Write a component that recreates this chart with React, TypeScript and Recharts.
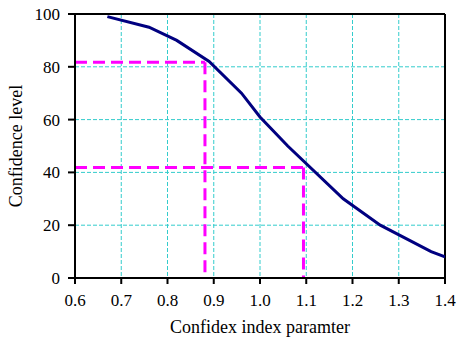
import React from 'react';
import { LineChart, Line, XAxis, YAxis, CartesianGrid, ReferenceLine } from 'recharts';

const curveX = [0.67, 0.76, 0.82, 0.89, 0.96, 1.0, 1.06, 1.18, 1.26, 1.37, 1.4];
const curveY = [99, 95, 90, 82, 70, 61, 50, 30, 20, 10, 8];

const xTicks = [0.6, 0.7, 0.8, 0.9, 1.0, 1.1, 1.2, 1.3, 1.4];
const yTicks = [0, 20, 40, 60, 80, 100];

const guideA = { x: 0.881, y: 81.7 };
const guideB = { x: 1.094, y: 41.9 };

const data = curveX.map((x, i) => ({ x, y: curveY[i] }));

const font = "'Liberation Serif', 'DejaVu Serif', serif";

export default function App() {
  return (
    <div style={{ position: 'absolute', left: 0, top: 0, fontFamily: font }}>
      <LineChart width={458} height={341} data={data} style={{ fontFamily: font }} margin={{ top: 14, right: 13, left: 0, bottom: 0 }}>
        <CartesianGrid stroke="#33cccc" strokeDasharray="4 2" strokeWidth={1} />
        <XAxis
          dataKey="x"
          type="number"
          domain={[0.6, 1.4]}
          ticks={xTicks}
          tickFormatter={(v: number) => v.toFixed(1)}
          stroke="#000"
          strokeWidth={2}
          tickSize={6}
          tickMargin={10}
          height={63}
          tick={{ fill: '#000', fontSize: 17, fontFamily: font }}
          label={{ value: 'Confidex index paramter', position: 'insideBottom', offset: 8, fill: '#000', fontSize: 18, fontFamily: font }}
          allowDataOverflow
        />
        <YAxis
          type="number"
          domain={[0, 100]}
          ticks={yTicks}
          stroke="#000"
          strokeWidth={2}
          tickSize={7}
          tickMargin={8}
          width={75}
          tick={{ fill: '#000', fontSize: 17, fontFamily: font }}
          label={{ value: 'Confidence level', angle: -90, position: 'insideLeft', offset: 16, style: { textAnchor: 'middle', fontFamily: font }, fill: '#000', fontSize: 18 }}
        />
        <ReferenceLine y={100} stroke="#000" strokeWidth={2} />
        <ReferenceLine x={1.4} stroke="#000" strokeWidth={2} />
        <ReferenceLine segment={[{ x: 0.6, y: guideA.y }, { x: guideA.x, y: guideA.y }]} stroke="#ff00ff" strokeWidth={3} strokeDasharray="12 6" />
        <ReferenceLine segment={[{ x: guideA.x, y: guideA.y }, { x: guideA.x, y: 0 }]} stroke="#ff00ff" strokeWidth={3} strokeDasharray="12 6" />
        <ReferenceLine segment={[{ x: 0.6, y: guideB.y }, { x: guideB.x, y: guideB.y }]} stroke="#ff00ff" strokeWidth={3} strokeDasharray="12 6" />
        <ReferenceLine segment={[{ x: guideB.x, y: guideB.y }, { x: guideB.x, y: 0 }]} stroke="#ff00ff" strokeWidth={3} strokeDasharray="12 6" />
        <Line type="linear" dataKey="y" stroke="#000080" strokeWidth={3} dot={false} isAnimationActive={false} />
      </LineChart>
    </div>
  );
}
